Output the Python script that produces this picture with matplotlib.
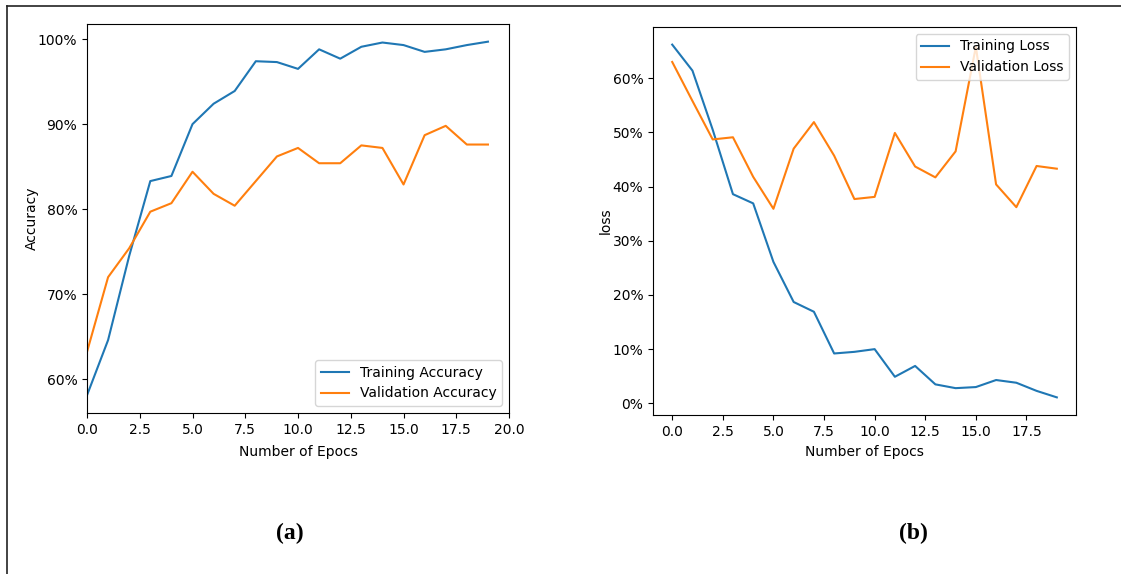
import matplotlib.pyplot as plt
from matplotlib.ticker import PercentFormatter
from matplotlib.lines import Line2D

# valores (fração 0-1)
epocas = list(range(20))
train_acc = [0.581, 0.646, 0.745, 0.833, 0.839, 0.900, 0.924, 0.939, 0.974, 0.973,
             0.965, 0.988, 0.977, 0.991, 0.996, 0.993, 0.985, 0.988, 0.993, 0.997]
val_acc = [0.632, 0.720, 0.754, 0.797, 0.807, 0.844, 0.818, 0.804, 0.833, 0.862,
           0.872, 0.854, 0.854, 0.875, 0.872, 0.829, 0.887, 0.898, 0.876, 0.876]
train_loss = [0.662, 0.614, 0.505, 0.386, 0.369, 0.261, 0.187, 0.169, 0.092, 0.095,
              0.100, 0.049, 0.069, 0.035, 0.028, 0.030, 0.043, 0.038, 0.023, 0.011]
val_loss = [0.630, 0.558, 0.487, 0.491, 0.418, 0.359, 0.470, 0.519, 0.457, 0.377,
            0.381, 0.499, 0.437, 0.417, 0.465, 0.658, 0.404, 0.362, 0.438, 0.433]

plt.rcParams['font.family'] = ['DejaVu Sans']
plt.rcParams['font.size'] = 10

fig = plt.figure(figsize=(11.21, 5.74), dpi=100)

# (a) acurácia
ax1 = fig.add_axes([0.0776, 0.2805, 0.3765, 0.6777])
ax1.plot(epocas, train_acc, label="Training Accuracy")
ax1.plot(epocas, val_acc, label="Validation Accuracy")
ax1.set_xlim(0, 20)
ax1.yaxis.set_major_formatter(PercentFormatter(1.0, decimals=0))
ax1.set_xlabel("Number of Epocs")
ax1.set_ylabel("Accuracy")
ax1.yaxis.set_label_coords(-0.114, 0.5)
ax1.xaxis.set_label_coords(0.5, -0.082)
ax1.legend(loc="lower right", fontsize=10)

# (b) perda
ax2 = fig.add_axes([0.5825, 0.277, 0.3774, 0.676])
ax2.plot(epocas, train_loss, label="Training Loss")
ax2.plot(epocas, val_loss, label="Validation Loss")
ax2.yaxis.set_major_formatter(PercentFormatter(1.0, decimals=0))
ax2.set_xlabel("Number of Epocs")
ax2.set_ylabel("loss")
ax2.yaxis.set_label_coords(-0.095, 0.5)
ax2.xaxis.set_label_coords(0.5, -0.077)
ax2.legend(loc="upper right", fontsize=10)

# legendas (a) e (b)
fig.text(290 / 1121, 1 - 533 / 574, "(a)", ha="center", va="center",
         fontsize=17, fontweight="bold", family="Liberation Serif")
fig.text(913 / 1121, 1 - 533 / 574, "(b)", ha="center", va="center",
         fontsize=17, fontweight="bold", family="Liberation Serif")

# moldura externa (só esquerda e topo)
fig.add_artist(Line2D([7 / 1121, 7 / 1121], [0, 1 - 6 / 574], color="#222222", lw=1.2))
fig.add_artist(Line2D([7 / 1121, 1], [1 - 6 / 574, 1 - 6 / 574], color="#222222", lw=1.2))

fig.savefig("out.png", dpi=100)
